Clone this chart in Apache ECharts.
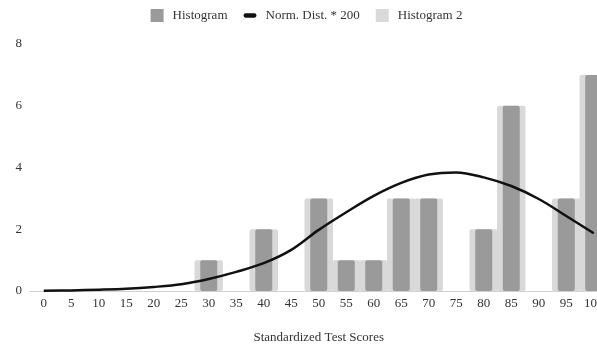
<!DOCTYPE html>
<html>
<head>
<meta charset="utf-8">
<script src="https://cdn.jsdelivr.net/npm/echarts@6/dist/echarts.min.js"></script>
<style>
  html, body { margin: 0; padding: 0; background: #fff; overflow: hidden; }
  #chart { width: 613px; height: 349px; }
</style>
</head>
<body>
<div id="chart"></div>
<script>
// Score buckets on the x axis
const categories = ['0','5','10','15','20','25','30','35','40','45','50','55','60','65','70','75','80','85','90','95','100'];
// Counts per bucket ('-' = empty bucket)
const histogram  = ['-','-','-','-','-','-',1,'-',2,'-',3,1,1,3,3,'-',2,6,'-',3,7];
const histogram2 = ['-','-','-','-','-','-',1,'-',2,'-',3,1,1,3,3,'-',2,6,'-',3,7];
// Normal density scaled by 200
const normDist = [0.01,0.02,0.04,0.07,0.13,0.22,0.39,0.62,0.90,1.33,1.98,2.55,3.08,3.50,3.77,3.84,3.68,3.40,2.98,2.43,1.87];
const yTicks = { min: 0, max: 8, interval: 2 };

const font = '"Liberation Serif", "DejaVu Serif", serif';
const textColor = '#333';

const chart = echarts.init(document.getElementById('chart'));
chart.setOption({
  animation: false,
  textStyle: { fontFamily: font },
  legend: {
    top: 4,
    left: 'center',
    itemWidth: 13,
    itemHeight: 13,
    itemGap: 16,
    textStyle: { fontFamily: font, fontSize: 13, color: textColor, padding: [0, 0, 0, 4] },
    data: [
      { name: 'Histogram', icon: 'rect' },
      { name: 'Norm. Dist. * 200', icon: 'path://M2,0 L10,0 A2,2 0 0 1 10,4 L2,4 A2,2 0 0 1 2,0 Z' },
      { name: 'Histogram 2', icon: 'rect' }
    ]
  },
  grid: { left: 30, right: 5.5, top: 44, bottom: 58, containLabel: false, outerBoundsMode: 'none' },
  xAxis: [
    {
      type: 'category',
      data: categories,
      boundaryGap: true,
      name: 'Standardized Test Scores',
      nameLocation: 'middle',
      nameGap: 40,
      nameTextStyle: { fontFamily: font, fontSize: 13, color: textColor },
      axisLine: { lineStyle: { color: '#d0d0d0', width: 1 } },
      axisTick: { show: false },
      axisLabel: { fontFamily: font, fontSize: 13, color: textColor, margin: 6, interval: 0 },
      splitLine: { show: false }
    },
    {
      type: 'category',
      data: categories,
      boundaryGap: true,
      show: false
    }
  ],
  yAxis: {
    type: 'value',
    min: yTicks.min,
    max: yTicks.max,
    interval: yTicks.interval,
    axisLine: { show: false },
    axisTick: { show: false },
    splitLine: { show: false },
    axisLabel: { fontFamily: font, fontSize: 13, color: textColor, margin: 8 }
  },
  series: [
    {
      name: 'Histogram 2',
      type: 'bar',
      xAxisIndex: 0,
      data: histogram2,
      barWidth: 28.5,
      z: 1,
      itemStyle: { color: '#d9d9d9', borderRadius: 2 }
    },
    {
      name: 'Histogram',
      type: 'bar',
      xAxisIndex: 1,
      data: histogram,
      barWidth: 17,
      z: 2,
      itemStyle: { color: '#9a9a9a', borderRadius: 2 }
    },
    {
      name: 'Norm. Dist. * 200',
      type: 'line',
      xAxisIndex: 0,
      data: normDist,
      smooth: 0.35,
      showSymbol: false,
      symbol: 'none',
      z: 3,
      lineStyle: { color: '#111', width: 2.5 },
      itemStyle: { color: '#111' }
    }
  ]
});
</script>
</body>
</html>
